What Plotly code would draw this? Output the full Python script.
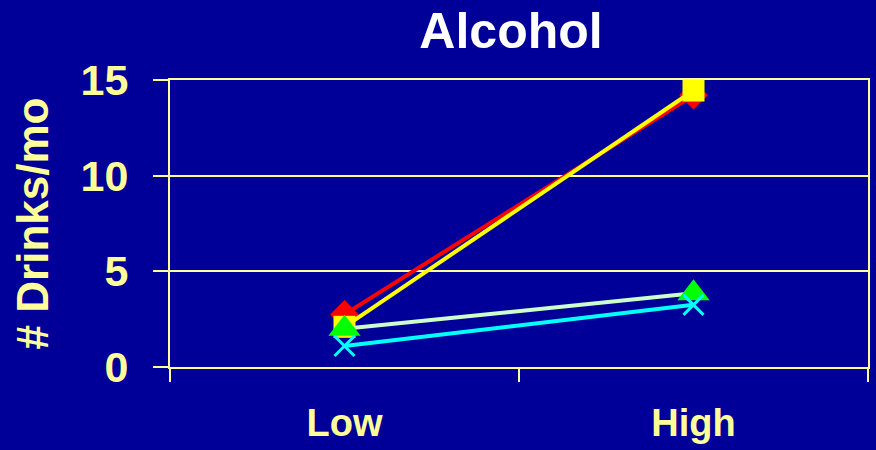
import plotly.graph_objects as go

# Alcohol use (drinks per month) at low vs high levels
categories = ["Low", "High"]
series_red = [2.75, 14.2]
series_yellow = [2.1, 14.45]
series_palegreen = [2.0, 3.85]
series_cyan = [1.1, 3.25]
y_ticks = [0, 5, 10, 15]

BG = "#000099"
PALE = "#FFFF99"
FONT = "Liberation Sans, Arial, sans-serif"

fig = go.Figure()

fig.add_trace(go.Scatter(
    x=categories, y=series_red, mode="lines+markers",
    line=dict(color="#FF0000", width=4),
    marker=dict(symbol="diamond", size=22, color="#FF0000"),
))
fig.add_trace(go.Scatter(
    x=categories, y=series_yellow, mode="lines+markers",
    line=dict(color="#FFFF00", width=4),
    marker=dict(symbol="square", size=22, color="#FFFF00"),
))
fig.add_trace(go.Scatter(
    x=categories, y=series_palegreen, mode="lines+markers",
    line=dict(color="#CCFFCC", width=4),
    marker=dict(symbol="triangle-up", size=28, color="#00FF00"),
))
fig.add_trace(go.Scatter(
    x=categories, y=series_cyan, mode="lines+markers",
    line=dict(color="#00FFFF", width=4),
    marker=dict(symbol="x-thin", size=20, color="#00FFFF",
                line=dict(color="#00FFFF", width=3)),
))

fig.update_layout(
    width=876, height=450,
    paper_bgcolor=BG, plot_bgcolor=BG,
    margin=dict(l=170, r=6, t=80, b=79),
    showlegend=False,
    title=dict(
        text="Alcohol",
        font=dict(family=FONT, size=50, color="white", weight="bold"),
        x=511 / 876, xanchor="center",
        y=1 - 30 / 450, yanchor="middle", yref="container",
    ),
    xaxis=dict(
        type="category", range=[-0.5, 1.5],
        showgrid=False, zeroline=False,
        showline=True, linecolor=PALE, linewidth=2, mirror=True,
        ticks="outside", tickson="boundaries", ticklen=13,
        tickcolor=PALE, tickwidth=2,
        ticklabelstandoff=21,
        tickfont=dict(family=FONT, size=38, color=PALE, weight="bold"),
    ),
    yaxis=dict(
        range=[0, 15], tickvals=y_ticks,
        showgrid=True, gridcolor=PALE, gridwidth=2,
        zeroline=False,
        showline=True, linecolor=PALE, linewidth=2, mirror=True,
        ticks="outside", ticklen=15, tickcolor=PALE, tickwidth=2,
        ticklabelstandoff=16,
        tickfont=dict(family=FONT, size=43, color=PALE, weight="bold"),
        title=dict(
            text="# Drinks/mo",
            font=dict(family=FONT, size=44, color=PALE, weight="bold"),
            standoff=18,
        ),
    ),
)

fig.write_html("out.html")
